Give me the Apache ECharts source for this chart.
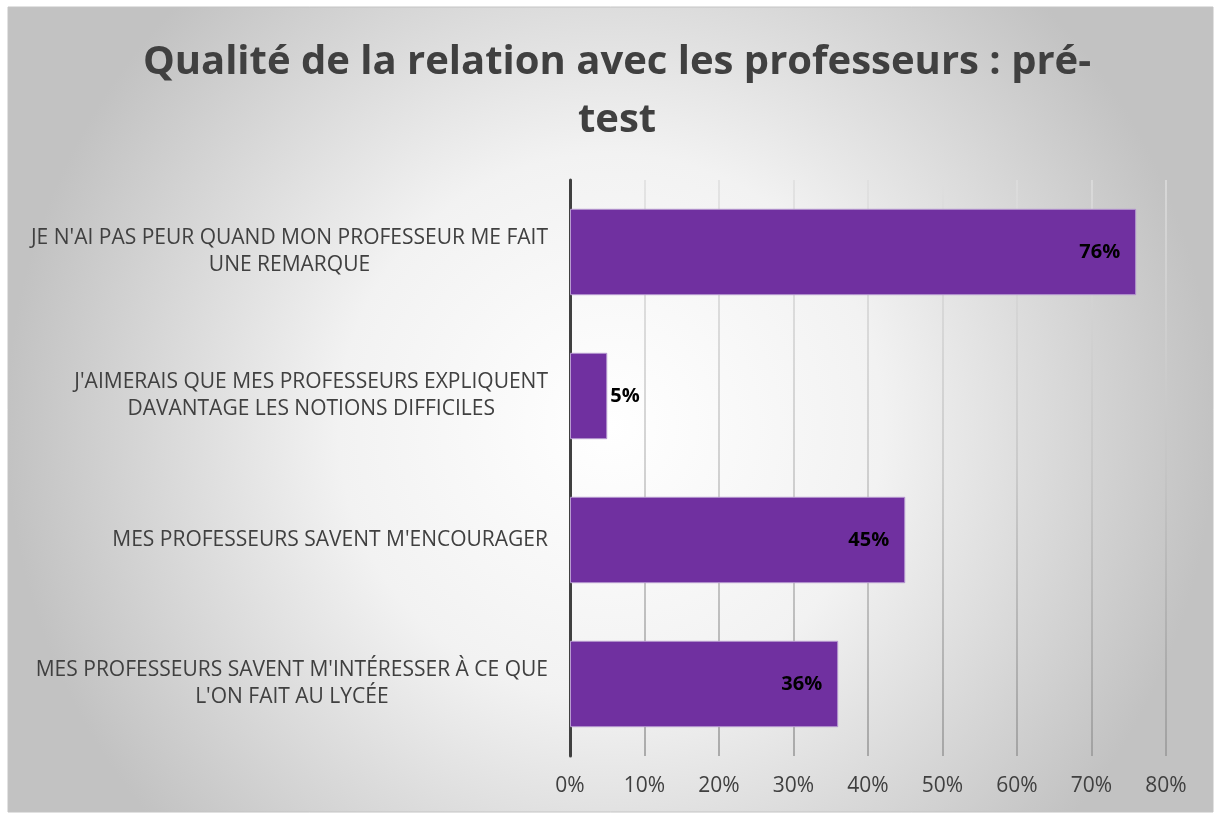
<!DOCTYPE html>
<html>
<head>
<meta charset="utf-8">
<script src="https://cdn.jsdelivr.net/npm/echarts@6/dist/echarts.min.js"></script>
<style>
  html, body { margin: 0; padding: 0; background: #ffffff; }
  #chart { width: 1215px; height: 814px; }
</style>
</head>
<body>
<div id="chart"></div>
<script>
// Categories (bottom to top, as ECharts draws category axes upward)
const categories = [
  "MES PROFESSEURS SAVENT M'INTÉRESSER À CE QUE\nL'ON FAIT AU LYCÉE",
  "MES PROFESSEURS SAVENT M'ENCOURAGER",
  "J'AIMERAIS QUE MES PROFESSEURS EXPLIQUENT\nDAVANTAGE LES NOTIONS DIFFICILES",
  "JE N'AI PAS PEUR QUAND MON PROFESSEUR ME FAIT\nUNE REMARQUE"
];
// Share of students (%)
const values = [36, 45, 5, 76];
const titleText = "Qualité de la relation avec les professeurs : pré-\ntest";

const chart = echarts.init(document.getElementById('chart'));

const seriesData = values.map(v => ({
  value: v,
  label: v < 10
    ? { position: 'right', distance: 3 }
    : { position: 'insideRight', distance: 16 }
}));

// gridlines fade from light at the top to a darker grey at the bottom
const gridColor = new echarts.graphic.LinearGradient(0, 180, 0, 756, [
  { offset: 0, color: '#dedede' },
  { offset: 0.5, color: '#c4c4c4' },
  { offset: 1, color: '#969696' }
], true);

chart.setOption({
  animation: false,
  graphic: [{
    type: 'rect',
    z: -10,
    silent: true,
    shape: { x: 8, y: 7, width: 1205, height: 805 },
    style: {
      fill: new echarts.graphic.RadialGradient(0.5, 0.52, 0.75, [
        { offset: 0, color: '#ffffff' },
        { offset: 0.45, color: '#f2f2f2' },
        { offset: 1, color: '#c2c2c2' }
      ]),
      stroke: '#c4c4c4',
      lineWidth: 1
    }
  }],
  title: {
    text: titleText,
    left: 612,
    textAlign: 'center',
    top: 29,
    textStyle: {
      fontFamily: 'Open Sans',
      fontWeight: 'bold',
      fontSize: 40,
      lineHeight: 58,
      color: '#404040'
    }
  },
  grid: {
    left: 570,
    right: 1215 - 1166,
    top: 180,
    bottom: 814 - 756,
    containLabel: false
  },
  xAxis: {
    type: 'value',
    min: 0,
    max: 80,
    interval: 10,
    axisLine: { show: false },
    axisTick: { show: false },
    axisLabel: {
      formatter: '{value}%',
      fontFamily: 'Open Sans',
      fontSize: 21,
      color: '#404040',
      margin: 20
    },
    splitLine: { lineStyle: { color: gridColor, width: 1.5 } }
  },
  yAxis: {
    type: 'category',
    data: categories,
    axisLine: { show: true, lineStyle: { color: '#404040', width: 3 } },
    axisTick: { show: false },
    axisLabel: {
      fontFamily: 'Open Sans',
      fontSize: 21,
      lineHeight: 27,
      color: '#404040',
      margin: 22,
      align: 'right',
      formatter: v => v.split('\n').map(s => '{c|' + s + '}').join('\n'),
      rich: {
        c: {
          align: 'center',
          fontFamily: 'Open Sans',
          fontSize: 21,
          lineHeight: 27,
          color: '#404040'
        }
      }
    }
  },
  series: [{
    type: 'bar',
    data: seriesData,
    barWidth: '60%',
    itemStyle: { color: '#7030A0', borderColor: '#b79ad0', borderWidth: 1 },
    label: {
      show: true,
      formatter: '{c}%',
      fontFamily: 'Open Sans',
      fontWeight: 'bold',
      fontSize: 20,
      color: '#000000'
    }
  }]
});
</script>
</body>
</html>
